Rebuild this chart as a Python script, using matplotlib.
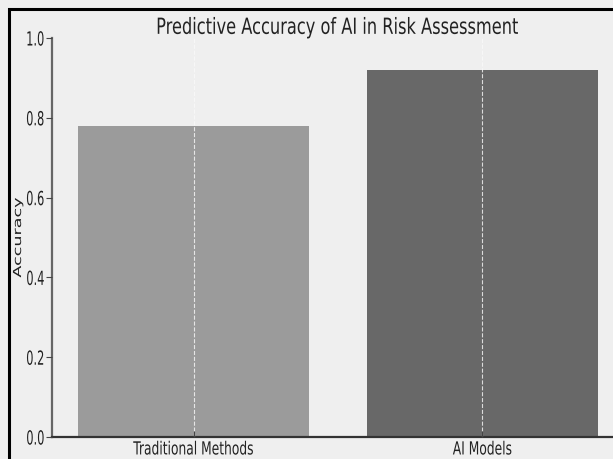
import matplotlib
matplotlib.use("Agg")
import matplotlib.pyplot as plt
from matplotlib.patches import Rectangle
from matplotlib.patheffects import AbstractPathEffect
from matplotlib.transforms import Affine2D

categories = ["Traditional Methods", "AI Models"]
accuracy = [0.78, 0.92]
bar_colors = ["#9b9b9b", "#686868"]
yticks = [0.0, 0.2, 0.4, 0.6, 0.8, 1.0]


class Squeeze(AbstractPathEffect):
    """Draw text with a condensed/stretched look around an anchor."""
    def __init__(self, sx=1.0, sy=1.0, anchor="center"):
        super().__init__()
        self.sx, self.sy, self.anchor = sx, sy, anchor

    def draw_path(self, renderer, gc, tpath, affine, rgbFace=None):
        v = tpath.vertices
        if len(v) == 0:
            return
        xmin, xmax = v[:, 0].min(), v[:, 0].max()
        ymin, ymax = v[:, 1].min(), v[:, 1].max()
        if self.anchor == "right":
            cx = xmax
        elif self.anchor == "left":
            cx = xmin
        else:
            cx = (xmin + xmax) / 2
        cy = (ymin + ymax) / 2
        pre = Affine2D().translate(-cx, -cy).scale(self.sx, self.sy).translate(cx, cy)
        renderer.draw_path(gc, tpath, pre + affine, rgbFace)


plt.rcParams['font.family'] = ['DejaVu Sans']

bg = "#efefef"
fig = plt.figure(figsize=(6.13, 4.59), dpi=100, facecolor=bg)
ax = fig.add_axes([52/613, 22/459, 572/613, 399/459], facecolor=bg)

x = list(range(len(categories)))
ax.bar(x, accuracy, width=0.8, color=bar_colors, zorder=2)
ax.set_xlim(-0.49, 1.49)
ax.set_ylim(0, 1.0)
ax.set_xticks(x)
ax.set_xticklabels(categories, fontsize=13)
ax.set_yticks(yticks)
ax.set_yticklabels([f"{t:.1f}" for t in yticks], fontsize=10)
ax.xaxis.grid(True, color="#fafafa", linestyle="--", linewidth=0.8, alpha=0.8, zorder=3)
ax.set_axisbelow(False)
for s in ["top", "right"]:
    ax.spines[s].set_visible(False)
ax.spines["left"].set_color("#666666")
ax.spines["bottom"].set_color("#333333")
for s in ["left", "bottom"]:
    ax.spines[s].set_linewidth(1.6)
ax.tick_params(axis="both", colors="#444444", length=4)
ax.tick_params(axis="x", direction="in", pad=2.5)
ax.tick_params(axis="y", direction="out", pad=1.5)
for lab in ax.get_xticklabels():
    lab.set_color("#222222")
    lab.set_path_effects([Squeeze(sx=0.68)])
for lab in ax.get_yticklabels():
    lab.set_color("#222222")
    lab.set_path_effects([Squeeze(sx=0.82, sy=1.4, anchor="right")])

ax.set_ylabel("Accuracy", fontsize=8, color="#222222")
ax.yaxis.label.set_va("center")
ax.yaxis.label.set_path_effects([Squeeze(sx=1.58)])
ax.yaxis.set_label_coords(-0.0594, 0.5)

t = ax.set_title("Predictive Accuracy of AI in Risk Assessment", fontsize=16,
                 pad=3, color="#222222")
t.set_path_effects([Squeeze(sx=0.73)])

fig.patches.append(Rectangle((9/613, -0.1), 1.2, 1 - 9/459 + 0.1, transform=fig.transFigure,
                             fill=False, edgecolor="black", linewidth=2.2))
fig.savefig("out.png", dpi=100, facecolor=bg)
